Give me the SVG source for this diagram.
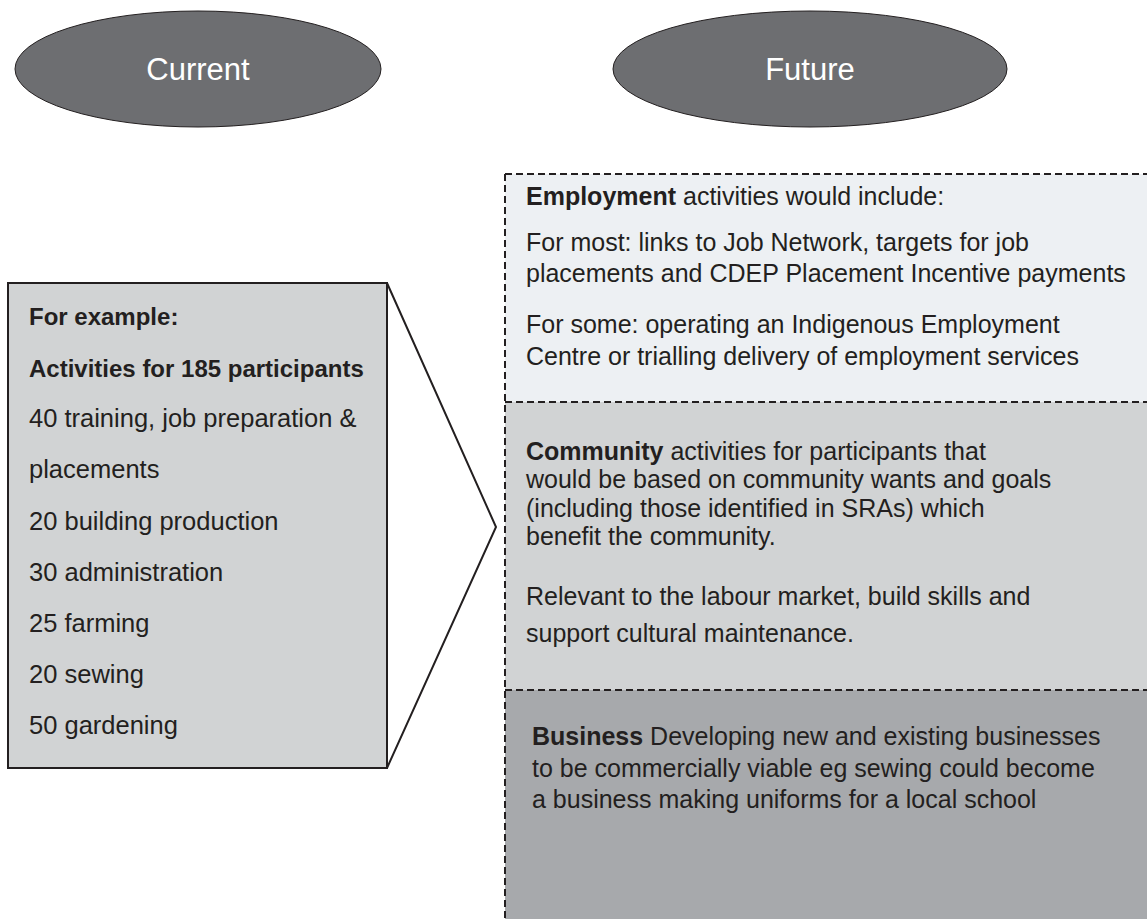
<svg xmlns="http://www.w3.org/2000/svg" width="1147" height="919" viewBox="0 0 1147 919">
<style>
.oval{fill:#6d6e71;stroke:#231f20;stroke-width:1}
.otxt{fill:#ffffff;font-family:"Liberation Sans",Arial,sans-serif;font-size:31px;text-anchor:middle}
.t{fill:#231f20;font-family:"Liberation Sans",Arial,sans-serif;font-size:24px}
.rt{fill:#231f20;font-family:"Liberation Sans",Arial,sans-serif;font-size:25px}
.lt{fill:#231f20;font-family:"Liberation Sans",Arial,sans-serif;font-size:25.5px}
.b{font-weight:bold}
.dash{fill:none;stroke:#231f20;stroke-width:2;stroke-dasharray:7 4}
.solid{fill:none;stroke:#231f20;stroke-width:2}
</style>
<rect x="0" y="0" width="1147" height="919" fill="#ffffff"/>
<g id="current">
<ellipse class="oval" cx="198" cy="69" rx="183" ry="58"/>
<text class="otxt" x="198" y="80">Current</text>
</g>
<g id="future">
<ellipse class="oval" cx="810" cy="69" rx="197" ry="58"/>
<text class="otxt" x="810" y="80">Future</text>
</g>
<g id="current-box">
<rect x="8" y="283" width="379" height="485" fill="#d1d3d4" stroke="#231f20" stroke-width="2"/>
<text class="t b" x="29" y="325">For example:</text>
<text class="t b" x="29" y="377">Activities for 185 participants</text>
<text class="lt" x="29" y="427">40 training, job preparation &amp;</text>
<text class="lt" x="29" y="478">placements</text>
<text class="lt" x="29" y="530">20 building production</text>
<text class="lt" x="29" y="581">30 administration</text>
<text class="lt" x="29" y="632">25 farming</text>
<text class="lt" x="29" y="683">20 sewing</text>
<text class="lt" x="29" y="734">50 gardening</text>
</g>
<g id="employment">
<rect x="505" y="174" width="650" height="228" fill="#edf0f3"/>
<text class="rt" x="526" y="205"><tspan class="b">Employment</tspan> activities would include:</text>
<text class="rt" x="526" y="251">For most: links to Job Network, targets for job</text>
<text class="rt" x="526" y="282">placements and CDEP Placement Incentive payments</text>
<text class="rt" x="526" y="333">For some: operating an Indigenous Employment</text>
<text class="rt" x="526" y="365">Centre or trialling delivery of employment services</text>
</g>
<g id="community">
<rect x="505" y="402" width="650" height="288" fill="#d1d3d4"/>
<text class="rt" x="526" y="460"><tspan class="b">Community</tspan> activities for participants that</text>
<text class="rt" x="526" y="488">would be based on community wants and goals</text>
<text class="rt" x="526" y="517">(including those identified in SRAs) which</text>
<text class="rt" x="526" y="545">benefit the community.</text>
<text class="rt" x="526" y="605">Relevant to the labour market, build skills and</text>
<text class="rt" x="526" y="642">support cultural maintenance.</text>
</g>
<g id="business">
<rect x="505" y="690" width="650" height="240" fill="#a7a9ac"/>
<text class="rt" x="532" y="745"><tspan class="b">Business</tspan> Developing new and existing businesses</text>
<text class="rt" x="532" y="777">to be commercially viable eg sewing could become</text>
<text class="rt" x="532" y="808">a business making uniforms for a local school</text>
</g>
<g id="connectors">
<path class="solid" d="M387,283 L496,527 L387,768"/>
<path class="dash" d="M505,174 H1147 M505,402 H1147 M505,690 H1147 M505,174 V919"/>
</g>
</svg>
